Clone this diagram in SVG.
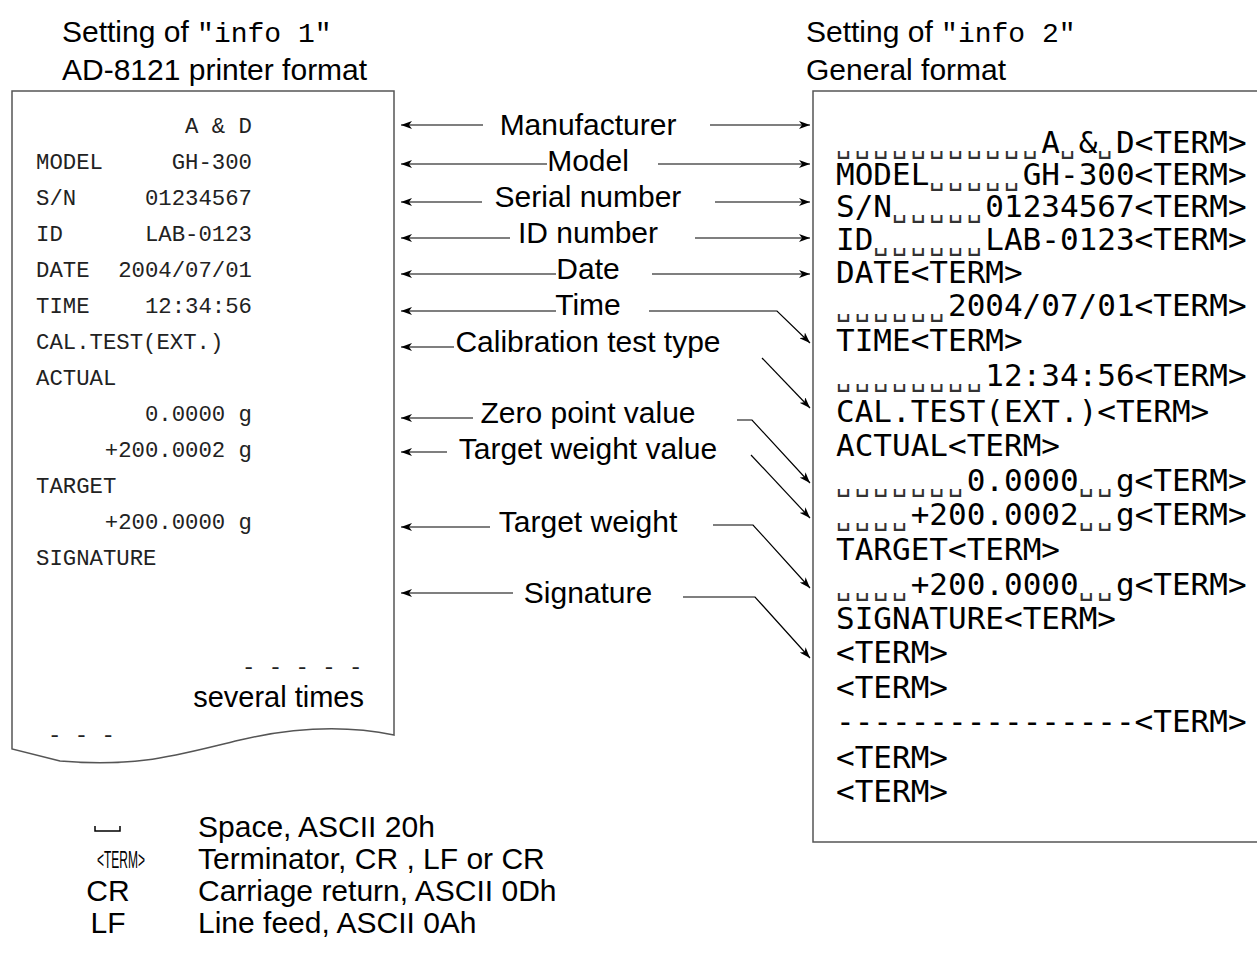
<svg xmlns="http://www.w3.org/2000/svg" width="1257" height="960" viewBox="0 0 1257 960">
<style>
.title{font-family:"Liberation Sans",Arial,sans-serif;font-size:30px;fill:#000}
.mono{font-family:"Liberation Mono","Courier New",monospace;font-size:28px}
.lbl{font-family:"Liberation Sans",Arial,sans-serif;font-size:30px;fill:#000;text-anchor:middle}
.prn{font-family:"Liberation Mono","Courier New",monospace;font-size:22.3px;fill:#222}
.prn .r{text-anchor:end}
.gen{font-family:"DejaVu Sans Mono",monospace;font-size:31px;fill:#000}
.sp{font-size:25px;letter-spacing:3.61px;fill:#333}
.box{fill:#fff;stroke:#555;stroke-width:1.5}
.cn{fill:none;stroke:#000;stroke-width:1.2}
.leg{font-family:"Liberation Sans",Arial,sans-serif;font-size:30px;fill:#000}
</style>
<defs>
<marker id="ah" viewBox="0 0 11 8" markerWidth="11" markerHeight="8" refX="11" refY="4" orient="auto" markerUnits="userSpaceOnUse">
<path d="M0,0 L11,4 L0,8 L3,4 Z" fill="#000"/>
</marker>
</defs>
<rect width="1257" height="960" fill="#fff"/>

<g id="title-left">
<text class="title" x="62" y="42">Setting of <tspan class="mono">"info 1"</tspan></text>
<text class="title" x="62" y="80">AD-8121 printer format</text>
</g>
<g id="title-right">
<text class="title" x="806" y="42">Setting of <tspan class="mono">"info 2"</tspan></text>
<text class="title" x="806" y="80">General format</text>
</g>

<g id="printer-format">
<path class="box" d="M12,91 L394,91 L394,735 C 350,726 300,726 240,740 C 180,754 140,768 60,761 L12,749 Z"/>
<g class="prn">
<text class="r" x="252" y="133">A &amp; D</text>
<text x="36" y="169">MODEL</text><text class="r" x="252" y="169">GH-300</text>
<text x="36" y="205">S/N</text><text class="r" x="252" y="205">01234567</text>
<text x="36" y="241">ID</text><text class="r" x="252" y="241">LAB-0123</text>
<text x="36" y="277">DATE</text><text class="r" x="252" y="277">2004/07/01</text>
<text x="36" y="313">TIME</text><text class="r" x="252" y="313">12:34:56</text>
<text x="36" y="349">CAL.TEST(EXT.)</text>
<text x="36" y="385">ACTUAL</text>
<text class="r" x="252" y="421">0.0000  g</text>
<text class="r" x="252" y="457">+200.0002  g</text>
<text x="36" y="493">TARGET</text>
<text class="r" x="252" y="529">+200.0000  g</text>
<text x="36" y="565">SIGNATURE</text>
<text x="242" y="674" xml:space="preserve">- - - - -</text>
<text x="48" y="742" xml:space="preserve">- - -</text>
</g>
<text class="leg" x="364" y="707" text-anchor="end" style="font-size:29px">several times</text>
</g>

<g id="general-format">
<path class="box" d="M1262,91 L813,91 L813,842 L1262,842"/>
<g class="gen">
<text x="836" y="153"><tspan class="sp">␣␣␣␣␣␣␣␣␣␣␣</tspan>A<tspan class="sp">␣</tspan>&amp;<tspan class="sp">␣</tspan>D&lt;TERM&gt;</text>
<text x="836" y="185">MODEL<tspan class="sp">␣␣␣␣␣</tspan>GH-300&lt;TERM&gt;</text>
<text x="836" y="217">S/N<tspan class="sp">␣␣␣␣␣</tspan>01234567&lt;TERM&gt;</text>
<text x="836" y="250">ID<tspan class="sp">␣␣␣␣␣␣</tspan>LAB-0123&lt;TERM&gt;</text>
<text x="836" y="283">DATE&lt;TERM&gt;</text>
<text x="836" y="316"><tspan class="sp">␣␣␣␣␣␣</tspan>2004/07/01&lt;TERM&gt;</text>
<text x="836" y="351">TIME&lt;TERM&gt;</text>
<text x="836" y="386"><tspan class="sp">␣␣␣␣␣␣␣␣</tspan>12:34:56&lt;TERM&gt;</text>
<text x="836" y="422">CAL.TEST(EXT.)&lt;TERM&gt;</text>
<text x="836" y="456">ACTUAL&lt;TERM&gt;</text>
<text x="836" y="491"><tspan class="sp">␣␣␣␣␣␣␣</tspan>0.0000<tspan class="sp">␣␣</tspan>g&lt;TERM&gt;</text>
<text x="836" y="525"><tspan class="sp">␣␣␣␣</tspan>+200.0002<tspan class="sp">␣␣</tspan>g&lt;TERM&gt;</text>
<text x="836" y="560">TARGET&lt;TERM&gt;</text>
<text x="836" y="595"><tspan class="sp">␣␣␣␣</tspan>+200.0000<tspan class="sp">␣␣</tspan>g&lt;TERM&gt;</text>
<text x="836" y="629">SIGNATURE&lt;TERM&gt;</text>
<text x="836" y="663">&lt;TERM&gt;</text>
<text x="836" y="698">&lt;TERM&gt;</text>
<text x="836" y="732">----------------&lt;TERM&gt;</text>
<text x="836" y="768">&lt;TERM&gt;</text>
<text x="836" y="802">&lt;TERM&gt;</text>
</g>
</g>

<g id="labels">
<text class="lbl" x="588" y="135">Manufacturer</text>
<text class="lbl" x="588" y="171">Model</text>
<text class="lbl" x="588" y="207">Serial number</text>
<text class="lbl" x="588" y="243">ID number</text>
<text class="lbl" x="588" y="279">Date</text>
<text class="lbl" x="588" y="315">Time</text>
<text class="lbl" x="588" y="352">Calibration test type</text>
<text class="lbl" x="588" y="423">Zero point value</text>
<text class="lbl" x="588" y="459">Target weight value</text>
<text class="lbl" x="588" y="532">Target weight</text>
<text class="lbl" x="588" y="603">Signature</text>
</g>

<g id="connectors">
<line class="cn" x1="483" y1="125" x2="401" y2="125" marker-end="url(#ah)"/>
<line class="cn" x1="710" y1="125" x2="810" y2="125" marker-end="url(#ah)"/>
<line class="cn" x1="547" y1="164" x2="401" y2="164" marker-end="url(#ah)"/>
<line class="cn" x1="658" y1="164" x2="810" y2="164" marker-end="url(#ah)"/>
<line class="cn" x1="482" y1="202" x2="401" y2="202" marker-end="url(#ah)"/>
<line class="cn" x1="715" y1="202" x2="810" y2="202" marker-end="url(#ah)"/>
<line class="cn" x1="510" y1="238" x2="401" y2="238" marker-end="url(#ah)"/>
<line class="cn" x1="695" y1="238" x2="810" y2="238" marker-end="url(#ah)"/>
<line class="cn" x1="556" y1="274" x2="401" y2="274" marker-end="url(#ah)"/>
<line class="cn" x1="652" y1="274" x2="810" y2="274" marker-end="url(#ah)"/>
<line class="cn" x1="556" y1="311" x2="401" y2="311" marker-end="url(#ah)"/>
<polyline class="cn" points="649,311 777,311 810,343" marker-end="url(#ah)"/>
<line class="cn" x1="454" y1="347" x2="401" y2="347" marker-end="url(#ah)"/>
<line class="cn" x1="762" y1="358" x2="810" y2="408" marker-end="url(#ah)"/>
<line class="cn" x1="473" y1="418" x2="401" y2="418" marker-end="url(#ah)"/>
<polyline class="cn" points="737,420 752,420 810,483" marker-end="url(#ah)"/>
<line class="cn" x1="447" y1="452" x2="401" y2="452" marker-end="url(#ah)"/>
<line class="cn" x1="751" y1="455" x2="810" y2="518" marker-end="url(#ah)"/>
<line class="cn" x1="490" y1="527" x2="401" y2="527" marker-end="url(#ah)"/>
<polyline class="cn" points="713,525 753,525 810,588" marker-end="url(#ah)"/>
<line class="cn" x1="513" y1="593" x2="401" y2="593" marker-end="url(#ah)"/>
<polyline class="cn" points="683,597 755,597 810,658" marker-end="url(#ah)"/>
</g>

<g id="legend">
<path d="M95,826 V831 H120 V826" fill="none" stroke="#000" stroke-width="1.5"/>
<text class="leg" x="198" y="837">Space, ASCII 20h</text>
<text class="leg" transform="translate(97,868) scale(0.5,1)" x="0" y="0" style="font-size:24px">&lt;TERM&gt;</text>
<text class="leg" x="198" y="869">Terminator, CR , LF or CR</text>
<text class="leg" x="108" y="901" text-anchor="middle">CR</text>
<text class="leg" x="198" y="901">Carriage return, ASCII 0Dh</text>
<text class="leg" x="108" y="933" text-anchor="middle">LF</text>
<text class="leg" x="198" y="933">Line feed, ASCII 0Ah</text>
</g>
</svg>
